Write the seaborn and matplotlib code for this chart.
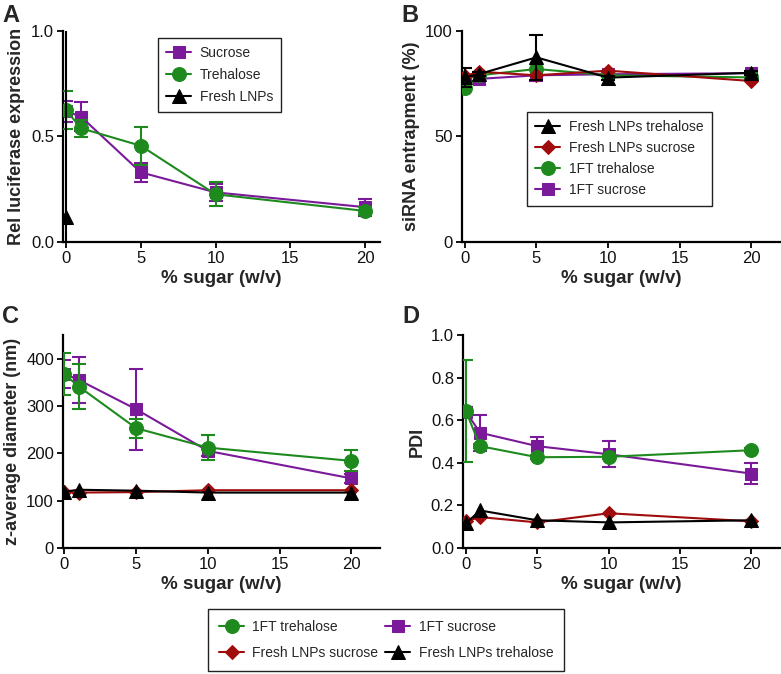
import numpy as np
import matplotlib
matplotlib.use("Agg")
import matplotlib.pyplot as plt
import seaborn as sns

sns.set_style("ticks")
plt.rcParams['font.family'] = ['Liberation Sans', 'DejaVu Sans']

sugar = [0, 1, 5, 10, 20]

# colours
c_green = '#1e8a1e'
c_purple = '#7a1a9a'
c_red = '#a00c0c'
c_black = '#000000'

# Panel A - relative luciferase expression
a_sucrose = [0.62, 0.594, 0.33, 0.235, 0.165]
a_sucrose_err = [0.05, 0.07, 0.045, 0.04, 0.04]
a_trehalose = [0.625, 0.539, 0.456, 0.226, 0.147]
a_trehalose_err = [0.09, 0.04, 0.09, 0.057, 0.02]
a_fresh_x = [0]
a_fresh = [0.12]
a_fresh_err = [0.9]

# Panel B - siRNA entrapment (%)
b_fresh_treh = [78, 79.6, 87.5, 77.9, 80.2]
b_fresh_treh_err = [4.5, 1, 10.5, 1, 1]
b_fresh_suc = [78.6, 80.7, 79, 81.2, 76.3]
b_ft_treh = [72.8, 79, 82, 79, 78]
b_ft_suc = [75, 77.3, 79, 79.5, 80]
b_ft_suc_err = [1, 1, 2.5, 1, 1]

# Panel C - z-average diameter (nm)
c_ft_treh = [367, 341, 253, 212, 184]
c_ft_treh_err = [44, 48, 20, 27, 22]
c_ft_suc = [368, 355, 293, 205, 147]
c_ft_suc_err = [30, 48, 86, 10, 10]
c_fresh_suc = [118, 117, 118, 122, 122]
c_fresh_treh = [119, 123, 121, 117, 117]

# Panel D - PDI
d_ft_treh = [0.643, 0.478, 0.426, 0.428, 0.459]
d_ft_treh_err = [0.24, 0.01, 0.01, 0.01, 0.01]
d_ft_suc = [0.64, 0.541, 0.478, 0.44, 0.349]
d_ft_suc_err = [0.02, 0.085, 0.045, 0.06, 0.05]
d_fresh_suc = [0.125, 0.145, 0.12, 0.163, 0.125]
d_fresh_treh = [0.115, 0.176, 0.13, 0.12, 0.13]

fig = plt.figure(figsize=(7.81, 6.74), dpi=100)
axA = fig.add_axes([0.0807, 0.641, 0.406, 0.313])
axB = fig.add_axes([0.5915, 0.641, 0.407, 0.313])
axC = fig.add_axes([0.0807, 0.187, 0.406, 0.316])
axD = fig.add_axes([0.5928, 0.187, 0.406, 0.316])

ms = 9
lw = 1.5
ylab_size = 13
leg_kw = dict(fontsize=10, fancybox=False, edgecolor='#222222', framealpha=1,
              handlelength=1.8, borderaxespad=0, handletextpad=0.6)


def series(ax, x, y, err, color, marker, label, size=ms, z=2):
    sns.lineplot(x=x, y=y, ax=ax, color=color, marker=marker, markersize=size,
                 markeredgecolor=color, linewidth=lw, label=label, zorder=z,
                 errorbar=None)
    if err is not None:
        ax.errorbar(x, y, yerr=err, fmt='none', ecolor=color, elinewidth=lw,
                    capsize=5, capthick=lw, zorder=z)


# A
series(axA, sugar, a_sucrose, a_sucrose_err, c_purple, 's', 'Sucrose', z=2)
series(axA, sugar, a_trehalose, a_trehalose_err, c_green, 'o', 'Trehalose', size=10, z=3)
series(axA, a_fresh_x, a_fresh, a_fresh_err, c_black, '^', 'Fresh LNPs', size=10, z=4)
axA.set_ylim(0, 1)
axA.set_yticks([0, 0.5, 1.0])
axA.set_yticklabels(['0.0', '0.5', '1.0'])
axA.set_ylabel('Rel luciferase expression', fontsize=ylab_size, fontweight='bold')
axA.legend(loc='upper left', bbox_to_anchor=(158 / 781, 1 - 38 / 674),
           bbox_transform=fig.transFigure, borderpad=0.6, labelspacing=0.55,
           **leg_kw)

# B
series(axB, sugar, b_ft_suc, b_ft_suc_err, c_purple, 's', '1FT sucrose', z=2)
series(axB, sugar, b_ft_treh, None, c_green, 'o', '1FT trehalose', size=10, z=3)
series(axB, sugar, b_fresh_suc, None, c_red, 'D', 'Fresh LNPs sucrose', size=7, z=4)
series(axB, sugar, b_fresh_treh, b_fresh_treh_err, c_black, '^', 'Fresh LNPs trehalose', size=10, z=5)
axB.set_ylim(0, 100)
axB.set_yticks([0, 50, 100])
axB.set_ylabel('siRNA entrapment (%)', fontsize=ylab_size, fontweight='bold')
h, l = axB.get_legend_handles_labels()
axB.legend(h[::-1], l[::-1], loc='upper left',
           bbox_to_anchor=(527 / 781, 1 - 112 / 674),
           bbox_transform=fig.transFigure, borderpad=0.6, labelspacing=0.5,
           **leg_kw)

# C
series(axC, sugar, c_ft_suc, c_ft_suc_err, c_purple, 's', '1FT sucrose', z=2)
series(axC, sugar, c_ft_treh, c_ft_treh_err, c_green, 'o', '1FT trehalose', size=10, z=3)
series(axC, sugar, c_fresh_suc, None, c_red, 'D', 'Fresh LNPs sucrose', size=7, z=4)
series(axC, sugar, c_fresh_treh, None, c_black, '^', 'Fresh LNPs trehalose', size=10, z=5)
axC.set_ylim(0, 450)
axC.set_yticks([0, 100, 200, 300, 400])
axC.set_ylabel('z-average diameter (nm)', fontsize=ylab_size, fontweight='bold')
hC, lC = axC.get_legend_handles_labels()
axC.get_legend().remove()

# D
series(axD, sugar, d_ft_suc, d_ft_suc_err, c_purple, 's', '1FT sucrose', z=2)
series(axD, sugar, d_ft_treh, d_ft_treh_err, c_green, 'o', '1FT trehalose', size=10, z=3)
series(axD, sugar, d_fresh_suc, None, c_red, 'D', 'Fresh LNPs sucrose', size=7, z=4)
series(axD, sugar, d_fresh_treh, None, c_black, '^', 'Fresh LNPs trehalose', size=10, z=5)
axD.set_ylim(0, 1)
axD.set_yticks([0, 0.2, 0.4, 0.6, 0.8, 1.0])
axD.set_yticklabels(['0.0', '0.2', '0.4', '0.6', '0.8', '1.0'])
axD.set_ylabel('PDI', fontsize=ylab_size, fontweight='bold')
axD.get_legend().remove()

for ax in (axA, axB, axC, axD):
    ax.set_xlim(-0.2, 21 if ax in (axA, axC) else 22)
    ax.set_xticks([0, 5, 10, 15, 20])
    ax.set_xlabel('% sugar (w/v)', fontsize=13.5, fontweight='bold', labelpad=3)
    ax.tick_params(labelsize=12, width=1.3, length=4, color='black',
                   labelcolor='#111111', pad=2.5)
    for s in ('left', 'bottom'):
        ax.spines[s].set_linewidth(1.6)
        ax.spines[s].set_color('black')
    sns.despine(ax=ax)
axC.set_xlim(-0.1, 22)

# shared bottom legend
order = [1, 2, 0, 3]  # 1FT trehalose, Fresh sucrose, 1FT sucrose, Fresh trehalose
fig.legend([hC[i] for i in order], [lC[i] for i in order], ncol=2,
           loc='upper left', bbox_to_anchor=(208 / 781, 1 - 609 / 674),
           columnspacing=0.5, labelspacing=0.85, borderpad=0.8, **leg_kw)

for txt, x, y in (('A', 2, 4), ('B', 401, 4), ('C', 2, 305), ('D', 402, 305)):
    fig.text(x / 781, 1 - y / 674, txt, fontsize=17, fontweight='bold',
             ha='left', va='top')

fig.savefig('out.png', dpi=100)
